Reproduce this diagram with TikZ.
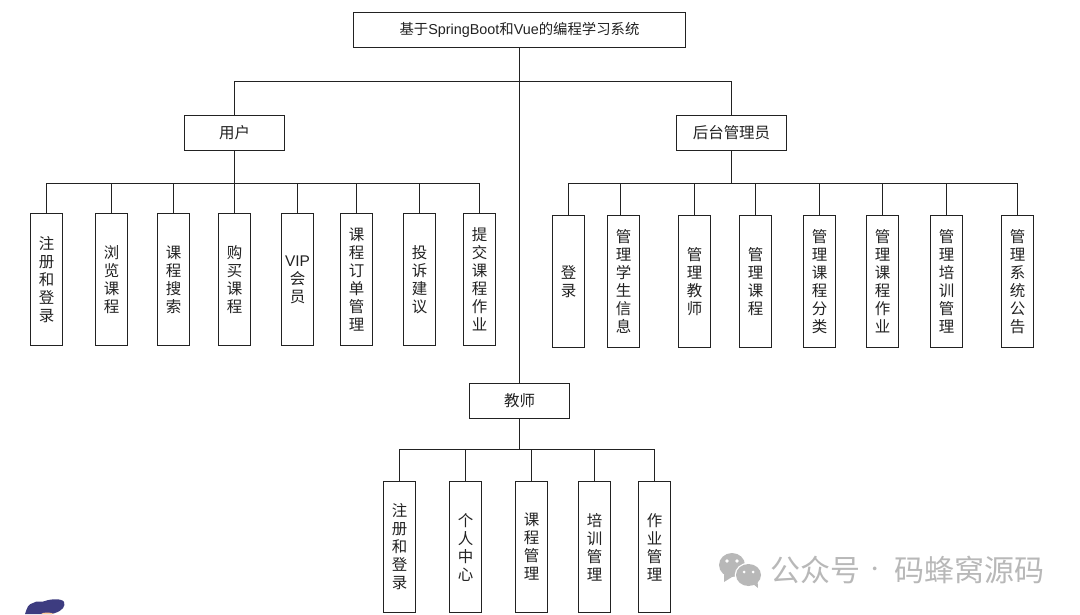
\documentclass[tikz,border=0pt]{standalone}
\usepackage{fontspec}
\setmainfont{Noto Sans CJK SC}
\newfontfamily\latinf{Liberation Sans}
\definecolor{ink}{HTML}{222222}
\definecolor{wm}{HTML}{B8B8B8}
\definecolor{blob}{HTML}{3D3C80}
\tikzset{
  sysbox/.style={draw=ink,line width=0.75pt,fill=white,text=ink,inner sep=0pt,font=\fontsize{11.6pt}{13.5pt}\selectfont,align=center},
  midbox/.style={sysbox,minimum height=26.25pt},
  rootbox/.style={midbox,font=\fontsize{10.78pt}{13.5pt}\selectfont},
  leafbox/.style={sysbox,minimum width=24pt},
  link/.style={draw=ink,line width=0.75pt},
  wmtext/.style={text=wm,font=\fontsize{22.5pt}{24pt}\selectfont,inner sep=0pt,anchor=center}
}
\newcommand{\leafnode}[5]{% name, x centre, top, bottom, text
  \node[leafbox,minimum height={(#4-#3)*0.75pt}] (#1) at (#2,{(#3+#4)/2}) {#5};}
\begin{document}
\begin{tikzpicture}[x=0.75pt,y=-0.75pt]
\useasboundingbox (0,0) rectangle (1080,614);
% top level
\node[rootbox,minimum width=249pt] (root) at (519.5,30) {基于{\latinf SpringBoot}和{\latinf Vue}的编程学习系统};
\node[midbox,minimum width=75pt] (user) at (234.5,133) {用户};
\node[midbox,minimum width=82.5pt] (admin) at (731.5,133) {后台管理员};
\node[midbox,minimum width=75pt] (teacher) at (519.5,401) {教师};
\coordinate (topbus) at (519.5,81.5);
\coordinate (ubus) at (234.5,183.5);
\coordinate (abus) at (731.5,183.5);
\coordinate (tbus) at (519.5,449.5);
% user leaves
\leafnode{u1}{46.5}{213.5}{345.5}{注\\册\\和\\登\\录}
\leafnode{u2}{111.5}{213.5}{345.5}{浏\\览\\课\\程}
\leafnode{u3}{173.5}{213.5}{345.5}{课\\程\\搜\\索}
\leafnode{u4}{234.5}{213.5}{345.5}{购\\买\\课\\程}
\leafnode{u5}{297.5}{213.5}{345.5}{{\latinf VIP}\\会\\员}
\leafnode{u6}{356.5}{213.5}{345.5}{课\\程\\订\\单\\管\\理}
\leafnode{u7}{419.5}{213.5}{345.5}{投\\诉\\建\\议}
\leafnode{u8}{479.5}{213.5}{345.5}{提\\交\\课\\程\\作\\业}
% admin leaves
\leafnode{a1}{568.5}{215.5}{347.5}{登\\录}
\leafnode{a2}{623.5}{215.5}{347.5}{管\\理\\学\\生\\信\\息}
\leafnode{a3}{694.5}{215.5}{347.5}{管\\理\\教\\师}
\leafnode{a4}{755.5}{215.5}{347.5}{管\\理\\课\\程}
\leafnode{a5}{819.5}{215.5}{347.5}{管\\理\\课\\程\\分\\类}
\leafnode{a6}{882.5}{215.5}{347.5}{管\\理\\课\\程\\作\\业}
\leafnode{a7}{946.5}{215.5}{347.5}{管\\理\\培\\训\\管\\理}
\leafnode{a8}{1017.5}{215.5}{347.5}{管\\理\\系\\统\\公\\告}
% teacher leaves
\leafnode{t1}{399.5}{481.5}{612.5}{注\\册\\和\\登\\录}
\leafnode{t2}{465.5}{481.5}{612.5}{个\\人\\中\\心}
\leafnode{t3}{531.5}{481.5}{612.5}{课\\程\\管\\理}
\leafnode{t4}{594.5}{481.5}{612.5}{培\\训\\管\\理}
\leafnode{t5}{654.5}{481.5}{612.5}{作\\业\\管\\理}
% connectors
\draw[link] (root.south) -- (teacher.north);
\draw[link] (topbus) -| (user.north);
\draw[link] (topbus) -| (admin.north);
\draw[link] (user.south) -- (ubus);
\draw[link] (admin.south) -- (abus);
\draw[link] (teacher.south) -- (tbus);
\foreach \n in {u1,u2,u3,u4,u5,u6,u7,u8}{\draw[link] (ubus) -| (\n.north);}
\foreach \n in {a1,a3,a4,a5,a6,a7,a8}{\draw[link] (abus) -| (\n.north);}
\coordinate (a2top) at ([xshift=-2.25pt]a2.north);
\draw[link] (abus) -| (a2top);
\foreach \n in {t1,t2,t3,t4,t5}{\draw[link] (tbus) -| (\n.north);}
% watermark
\fill[wm] (732,565) ellipse [x radius=13,y radius=12];
\fill[wm] (724,574) -- (724,582) -- (732,577) -- cycle;
\fill[white] (748.5,575) ellipse [x radius=13.8,y radius=12.3];
\fill[wm] (748.5,575) ellipse [x radius=12.5,y radius=11];
\fill[wm] (753,584) -- (758,588) -- (757.5,580) -- cycle;
\fill[white] (727,561) circle (1.9) (737,561) circle (1.9) (744,572) circle (1.5) (753,572) circle (1.5);
\node[wmtext] (wm1) at (815,570) {公众号};
\node[wmtext,font=\fontsize{13pt}{14pt}\selectfont] (wm2) at (875.5,571) {·};
\node[wmtext] (wm3) at (969.5,570) {码蜂窝源码};
% stray mark, lower left
\fill[blob] (25,614) .. controls (27,608) and (28,604) .. (33,603) .. controls (37,600) and (41,603) .. (45,601) .. controls (50,599) and (62,598) .. (64,602) .. controls (66,606) and (62,611) .. (55,613) -- (52,614) -- cycle;
\fill[orange!40] (41,614) .. controls (43,612) and (51,612) .. (54,614) -- cycle;
\end{tikzpicture}
\end{document}
